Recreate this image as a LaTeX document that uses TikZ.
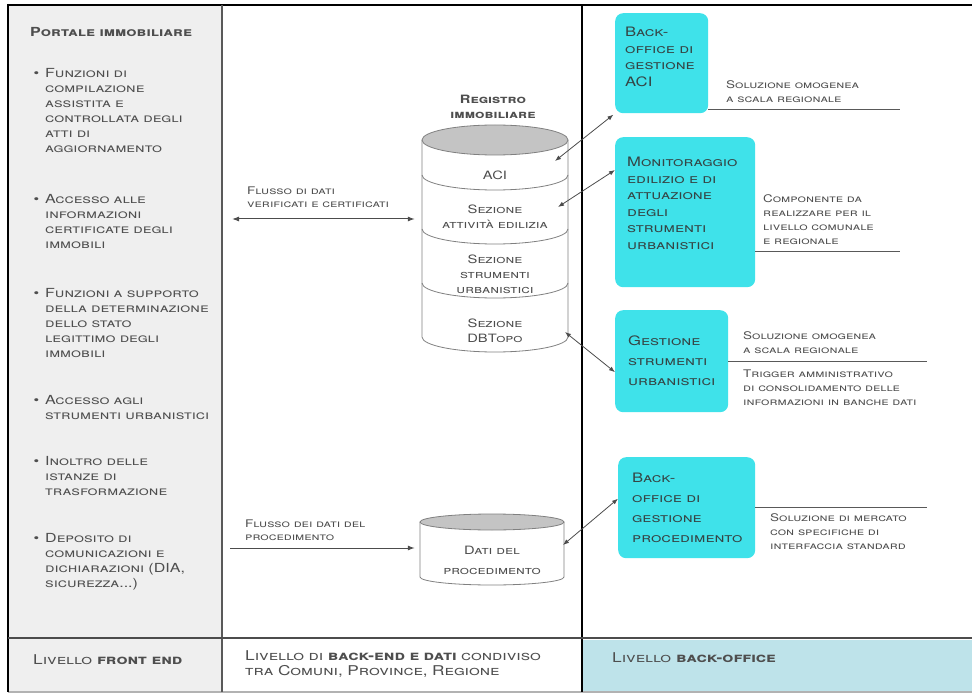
\documentclass[tikz,border=0pt]{standalone}
\usepackage{fontspec}
\setmainfont{TeX Gyre Heros}[FakeStretch=1.28]
\usetikzlibrary{arrows.meta,positioning}

\definecolor{leftbg}{HTML}{EFEFEF}
\definecolor{cyanbox}{HTML}{3FE2EA}
\definecolor{lightblue}{HTML}{BEE3EA}
\definecolor{txt}{HTML}{4E4E4E}
\definecolor{boxtxt}{HTML}{354545}
\definecolor{cyltop}{HTML}{C4C4C4}

\newcommand\fLeft{\fontsize{12.5}{15}\selectfont\scshape}
\newcommand\fBox{\fontsize{13}{16.5}\selectfont\scshape}
\newcommand\fBoxw{\fontsize{13}{20}\selectfont\scshape}
\newcommand\fCyl{\fontsize{11.5}{15}\selectfont\scshape}
\newcommand\fNote{\fontsize{10.5}{14}\selectfont\scshape}
\newcommand\fFlow{\fontsize{10.5}{13}\selectfont\scshape}
\newcommand\fLevel{\fontsize{13.5}{15}\selectfont\scshape}
\newcommand\bul{\leavevmode\llap{\textbullet\hspace{6pt}}}

\begin{document}
\begin{tikzpicture}[x=1pt,y=-1pt,
  lst/.style={anchor=north west, inner sep=0pt, text width=178pt, align=left, font=\fLeft, text=txt},
  bx/.style={anchor=north west, fill=cyanbox, rounded corners=8pt, inner xsep=10pt, inner ysep=0pt, align=left, font=\fBox, text=boxtxt},
  note/.style={anchor=north west, inner sep=0pt, align=left, font=\fNote, text=txt},
  sec/.style={inner sep=0pt, align=center, font=\fCyl, text=txt},
  lvl/.style={anchor=base west, inner sep=0pt, font=\fLevel, text=txt},
  rule/.style={draw=gray!70!black, line width=1pt},
  cyl/.style={draw=gray, line width=0.8pt},
  link/.style={{Latex[length=6pt,width=4.5pt]}-{Latex[length=6pt,width=4.5pt]}, draw=gray!60!black, line width=0.8pt},
  flow/.style={-{Latex[length=7pt,width=5pt]}, draw=gray!60!black, line width=1pt},
  flowb/.style={{Latex[length=7pt,width=5pt]}-{Latex[length=7pt,width=5pt]}, draw=gray!60!black, line width=1pt}
]
\useasboundingbox (0,0) rectangle (972,695);

% panels and frame
\fill[leftbg] (8,5) rectangle (222,692);
\fill[lightblue] (582,640) rectangle (972,692);
\draw[gray!60, line width=1.2pt] (8,692) -- (972,692);
\draw[line width=2pt] (8,5) -- (972,5);
\draw[line width=2pt] (8,4) -- (8,692);
\draw[gray!70!black, line width=2pt] (222,5) -- (222,692);
\draw[line width=1.2pt] (582,5) -- (582,692);
\draw[gray!60!black, line width=2.5pt] (8,638) -- (972,638);

% front end
\node[anchor=base west, inner sep=0pt, font=\fLeft\bfseries, text=txt] (portale) at (30,37) {Portale immobiliare};
\node[lst] (it1) at (45,68) {\bul Funzioni di\\compilazione\\assistita e\\controllata degli\\atti di\\aggiornamento};
\node[lst] (it2) at (45,194) {\bul Accesso alle\\informazioni\\certificate degli\\immobili};
\node[lst] (it3) at (45,288) {\bul Funzioni a supporto\\della determinazione\\dello stato\\legittimo degli\\immobili};
\node[lst] (it4) at (45,395) {\bul Accesso agli\\strumenti urbanistici};
\node[lst] (it5) at (45,456) {\bul Inoltro delle\\istanze di\\trasformazione};
\node[lst] (it6) at (45,533) {\bul Deposito di\\comunicazioni e\\dichiarazioni (DIA,\\sicurezza...)};

% registro immobiliare
\node[sec, font=\fCyl\bfseries] (regtit) at (493,107) {Registro\\immobiliare};
\node[minimum width=146pt, minimum height=197pt, inner sep=0pt] (reg) at (495,238.5) {};
\filldraw[cyl, fill=white] (422,140) -- (422,337) arc[start angle=180, end angle=360, x radius=73pt, y radius=15pt] -- (568,140);
\filldraw[cyl, fill=cyltop] (495,140) ellipse[x radius=73pt, y radius=15pt];
\foreach \yy in {175,229,283}
  \draw[cyl] (422,\yy) arc[start angle=180, end angle=360, x radius=73pt, y radius=15pt];
\node[sec] (aci) at (495,175) {ACI};
\node[sec] (sae) at (495,217) {Sezione\\attività edilizia};
\node[sec] (ssu) at (495,274) {Sezione\\strumenti\\urbanistici};
\node[sec] (sdb) at (495,331) {Sezione\\DBTopo};

% dati del procedimento
\node[minimum width=144pt, minimum height=55pt, inner sep=0pt] (dpc) at (492,549.5) {};
\filldraw[cyl, fill=white] (420,522) -- (420,577) arc[start angle=180, end angle=360, x radius=72pt, y radius=8pt] -- (564,522);
\filldraw[cyl, fill=cyltop] (492,522) ellipse[x radius=72pt, y radius=8pt];
\node[sec, font={\fontsize{11.5}{20}\selectfont\scshape}] (dproc) at (492,560) {Dati del\\procedimento};

% flussi
\coordinate (in1) at (232,219);
\coordinate (in2) at (230,548);
\node[note, font=\fFlow] (fl1t) at (247,187) {Flusso di dati\\verificati e certificati};
\node[note, font=\fFlow] (fl2t) at (245,520) {Flusso dei dati del\\procedimento};
\draw[flowb, shorten >=7pt] (in1) -- (in1 -| reg.west);
\draw[flow, shorten >=5pt] (in2) -- (in2 -| dpc.west);

% back-office
\node[bx, minimum width=93pt, minimum height=100pt, text width=73pt, text depth=62.6pt] (bo1) at (615,13) {Back-\\office di\\gestione\\ACI};
\node[bx, inner xsep=12pt, minimum height=150pt, text width=116pt, text depth=100.6pt] (mon) at (615,137) {Monitoraggio\\edilizio e di\\attuazione\\degli\\strumenti\\urbanistici};
\node[bx, font=\fBoxw, inner xsep=13pt, minimum height=102pt, text width=87pt] (gsu) at (615,310) {Gestione\\strumenti\\urbanistici};
\node[bx, font=\fBoxw, inner xsep=14pt, minimum height=101pt, text width=109pt] (bop) at (618,457) {Back-\\office di\\gestione\\procedimento};

\draw[rule] ([yshift=4pt]bo1.south east) -- ++(192,0);
\node[note] (n1) at (726,80) {Soluzione omogenea\\a scala regionale};
\draw[rule] ([yshift=36pt]mon.south east) -- ++(145,0);
\node[note] (n2) at (763,194) {Componente da\\realizzare per il\\livello comunale\\e regionale};
\draw[rule] (gsu.east) -- ++(199,0);
\node[note] (n3) at (743,331) {Soluzione omogenea\\a scala regionale};
\node[note] (n4) at (743,370) {Trigger amministrativo\\di consolidamento delle\\informazioni in banche dati};
\draw[rule] (bop.east) -- ++(172,0);
\node[note] (n5) at (770,513) {Soluzione di mercato\\con specifiche di\\interfaccia standard};

% collegamenti
\coordinate (c1) at (555,161);
\coordinate (c2) at (558,207);
\coordinate (c3) at (565,332);
\coordinate (c4) at (563,545);
\draw[link, shorten >=2pt] (c1) -- (bo1.south west);
\draw[link] (c2) -- ([yshift=-33pt]mon.north west);
\draw[link] (c3) -- ([yshift=-11pt]gsu.west);
\draw[link] (c4) -- ([yshift=9pt]bop.west);

% livelli
\node[lvl] (lfe) at (33,664) {Livello \textbf{front end}};
\node[lst, font=\fLevel, text width=330pt] (lbe) at (245,650) {Livello di \textbf{back-end e dati} condiviso\\tra Comuni, Province, Regione};
\node[lvl] (lbo) at (612,662) {Livello \textbf{back-office}};
\end{tikzpicture}
\end{document}
